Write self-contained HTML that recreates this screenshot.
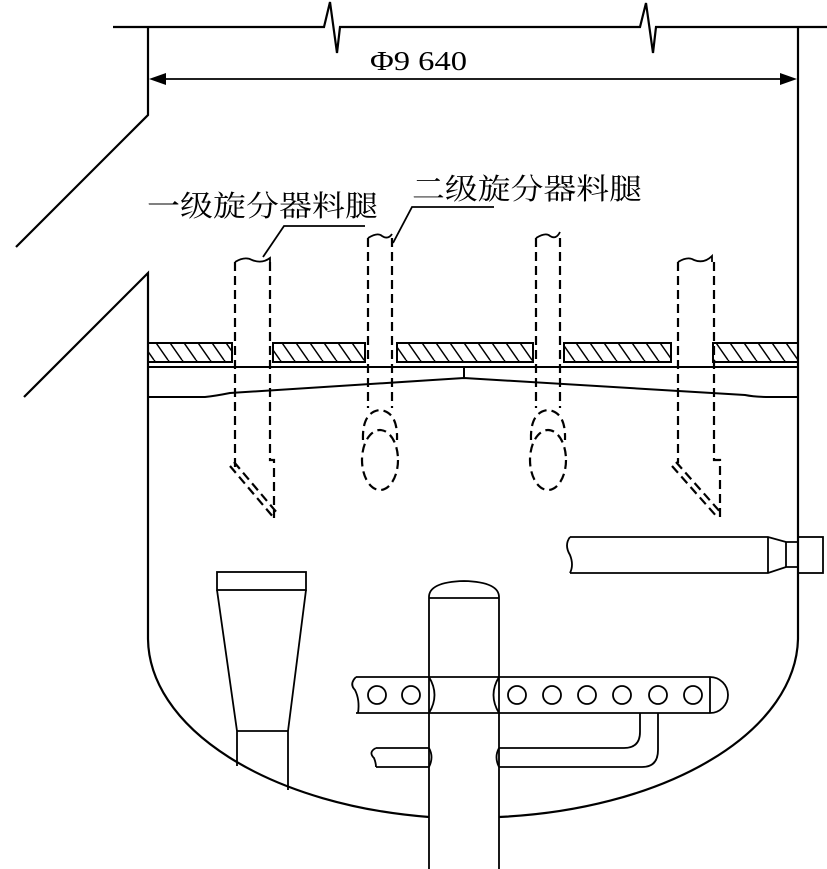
<!DOCTYPE html>
<html><head><meta charset="utf-8"><style>html,body{margin:0;padding:0;background:#fff}svg{display:block}</style></head>
<body>
<svg width="827" height="869" viewBox="0 0 827 869" xmlns="http://www.w3.org/2000/svg">
<defs>
<pattern id="h" width="14" height="20" patternUnits="userSpaceOnUse"><path d="M0 0 L14 20 M-14 0 L0 20 M14 0 L28 20" stroke="#000" stroke-width="1.5"/></pattern>
</defs>
<g fill="none" stroke="#000" stroke-width="2.2">
<path d="M113 27 H324 L330 2 L337 53 L340 27 H640 L646 3 L653 53 L656 27 H827"/>
<path d="M148 27 V115 L16 247"/>
<path d="M24 397 L148 273 V639"/>
<path d="M798 27 V639"/>
<path d="M148 639 A325 181 0 0 0 429 817"/>
<path d="M499 817 A325 181 0 0 0 798 639"/>
<path d="M160 79 H786" stroke-width="1.8"/>
</g>
<path d="M149 79 L166 73 L166 85 Z M797 79 L780 73 L780 85 Z" fill="#000"/>
<g font-family="'Liberation Serif','Noto Serif CJK SC',serif" fill="#000">
<text x="370" y="70" font-size="27" textLength="97" lengthAdjust="spacingAndGlyphs">Φ9 640</text>
<text x="147" y="216" font-size="29" textLength="231" lengthAdjust="spacingAndGlyphs">一级旋分器料腿</text>
<text x="412" y="199" font-size="29" textLength="230" lengthAdjust="spacingAndGlyphs">二级旋分器料腿</text>
</g>
<g fill="none" stroke="#000" stroke-width="1.8">
<path d="M365 226 H284 L263 257"/>
<path d="M494 207 H412 L393 243"/>
</g>
<g stroke="#000" stroke-width="2">
<rect x="148" y="343" width="84" height="19" fill="url(#h)"/>
<rect x="273" y="343" width="92" height="19" fill="url(#h)"/>
<rect x="397" y="343" width="136" height="19" fill="url(#h)"/>
<rect x="564" y="343" width="107" height="19" fill="url(#h)"/>
<rect x="713" y="343" width="85" height="19" fill="url(#h)"/>
</g>
<g fill="none" stroke="#000" stroke-width="2">
<path d="M148 367 H798"/>
<path d="M464 367 V378"/>
<path d="M148 397 H205 Q215 396 230 393 L464 378 L745 395 Q755 397 770 397 H798"/>
</g>
<g fill="none" stroke="#000" stroke-width="2.2" stroke-dasharray="9,5">
<path d="M235 262 V468"/><path d="M270 262 V460 H274 V518"/>
<path d="M230 466 L274 518"/><path d="M234 462 L278 514"/>
<path d="M368 238 V408"/><path d="M392 238 V408"/>
<path d="M536 238 V408"/><path d="M560 238 V408"/>
<path d="M678 262 V463"/><path d="M714 262 V460 H720 V517"/>
<path d="M672 466 L718 518"/><path d="M676 462 L722 514"/>
<path d="M363 440 Q362 412 380 410 Q398 412 397 440"/>
<ellipse cx="380" cy="460" rx="18" ry="30"/>
<path d="M531 440 Q530 412 548 410 Q566 412 565 440"/>
<ellipse cx="548" cy="460" rx="18" ry="30"/>
</g>
<g fill="none" stroke="#000" stroke-width="1.8">
<path d="M235 262 Q245 256 252 260 Q262 264 270 258 V262"/>
<path d="M368 238 Q378 232 382 236 Q388 240 392 234"/>
<path d="M536 238 Q546 232 550 236 Q556 240 560 232"/>
<path d="M678 262 Q688 256 694 260 Q704 264 712 256 V262"/>
<path d="M570 537 H768 L786 542 H798 M570 573 H768 L786 567 H798 M768 537 V573 M786 542 V567"/>
<path d="M570 537 Q564 545 570 555 Q574 565 570 573"/>
<rect x="798" y="537" width="25" height="36"/>
<rect x="217" y="572" width="89" height="18"/>
<path d="M217 590 L237 731 V766 M306 590 L288 731 V790 M237 731 H288"/>
<path d="M429 869 V598 M499 869 V598 M429 598 H499"/>
<path d="M429 598 Q428 582 464 581 Q500 582 499 598"/>
<path d="M356 677 H710 M356 713 H710 M710 677 V713"/>
<path d="M356 677 Q349 684 355 690 Q360 700 358 713"/>
<path d="M429 677 Q440 695 429 713 M499 677 Q488 695 499 713"/>
<path d="M710 677 A18 18 0 0 1 710 713"/>
<circle cx="377" cy="695" r="9"/><circle cx="411" cy="695" r="9"/>
<circle cx="517" cy="695" r="9"/><circle cx="552" cy="695" r="9"/><circle cx="587" cy="695" r="9"/>
<circle cx="622" cy="695" r="9"/><circle cx="658" cy="695" r="9"/><circle cx="693" cy="695" r="9"/>
<path d="M376 748 H429 M376 767 H429 M376 748 Q368 752 374 758 Q376 763 376 767"/>
<path d="M429 748 Q434 757 429 767 M499 748 Q494 757 499 767"/>
<path d="M499 748 H624 Q640 748 640 732 V713"/>
<path d="M499 767 H642 Q658 767 658 750 V713"/>
</g>
</svg>
</body></html>
